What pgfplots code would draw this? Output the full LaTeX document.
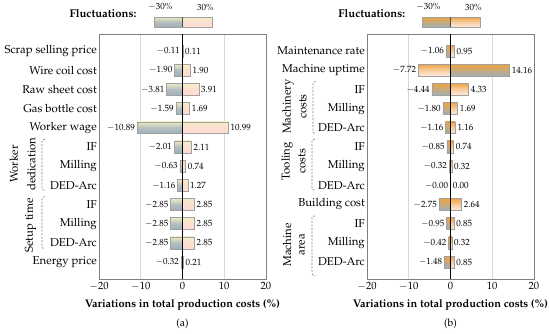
\documentclass[border=0pt]{standalone}
\usepackage[T1]{fontenc}
\usepackage{mathpazo}
\usepackage{pgfplots}
\pgfplotsset{compat=1.18}
\definecolor{barborder}{HTML}{A0A0A0}
\definecolor{aNtop}{HTML}{EFEBC4}
\definecolor{aNbot}{HTML}{9FB0BD}
\definecolor{aPtop}{HTML}{F6EEC6}
\definecolor{aPbot}{HTML}{FCDCD3}
\definecolor{bNtop}{HTML}{EEA43C}
\definecolor{bNbot}{HTML}{9FAFB9}
\definecolor{bPtop}{HTML}{EFA445}
\definecolor{bPbot}{HTML}{FDE9DC}
\definecolor{framec}{HTML}{7F7F7F}
\definecolor{gridc}{HTML}{D9D9D9}
\tikzset{valfont/.style={font=\fontsize{9}{10}\selectfont}}
\pgfplotsset{
  barbase/.style={xbar, bar width=0.62, draw=barborder, line width=0.5pt,
     nodes near coords, point meta=explicit symbolic},
  aneg/.style={barbase, top color=aNtop, bottom color=aNbot, middle color=aNbot!75!aNtop},
  apos/.style={barbase, top color=aPtop, bottom color=aPbot, middle color=aPbot!85!aPtop},
  bneg/.style={barbase, top color=bNtop, bottom color=bNbot, middle color=bNbot!50!bNtop},
  bpos/.style={barbase, top color=bPtop, bottom color=bPbot, middle color=bPbot!60!bPtop},
  lab east/.style={every node near coord/.append style={anchor=east, font=\fontsize{9}{10}\selectfont, inner sep=2pt, text=black}},
  lab west/.style={every node near coord/.append style={anchor=west, font=\fontsize{9}{10}\selectfont, inner sep=2pt, text=black}},
  tornado/.style={
    scale only axis, width=167pt, height=245pt,
    xmin=-20, xmax=20, ymin=-0.885, ymax=11.885, y dir=reverse,
    xtick={-20,-10,0,10,20}, ytick={0,...,11},
    major tick length=0pt,
    xmajorgrids, major grid style={draw=gridc, line width=0.6pt},
    axis line style={draw=framec, line width=0.9pt},
    bar shift=0pt,
    clip=false,
    xticklabel style={font=\fontsize{10.5}{12}\selectfont},
    yticklabel style={font=\fontsize{11.4}{13}\selectfont, anchor=east, inner sep=2pt},
    xlabel={Variations in total production costs (\%)},
    xlabel style={font=\fontsize{11}{13}\selectfont\bfseries, yshift=-2pt},
  },
}
% one bar per plot so that each bar gets its own shading
\newcommand{\nbar}[4]{\addplot[#1, lab east] coordinates {(#2,#3) [#4]};}
\newcommand{\pbar}[4]{\addplot[#1, lab west] coordinates {(#2,#3) [#4]};}
\newcommand{\bracketat}[3]{% xshift, top row, bottom row
  \draw[framec, dashed, dash pattern=on 2pt off 1.5pt, line width=0.6pt, rounded corners=2pt]
    ([xshift=#1+3pt]axis cs:-20,#2) -- ([xshift=#1]axis cs:-20,#2) -- ([xshift=#1]axis cs:-20,#3) -- ([xshift=#1+3pt]axis cs:-20,#3);}
\begin{document}
\begin{tikzpicture}
\tikzset{grp/.style={rotate=90, font=\fontsize{11.4}{13}\selectfont, inner sep=0pt}}
% ---------------- (a)
\begin{axis}[tornado, at={(0pt,0pt)}, anchor=south west,
  yticklabels={Scrap selling price, Wire coil cost, Raw sheet cost, Gas bottle cost, Worker wage, IF, Milling, DED-Arc, IF, Milling, DED-Arc, Energy price}]
% -30 %
\nbar{aneg}{-0.11}{0}{$-$0.11}
\nbar{aneg}{-1.90}{1}{$-$1.90}
\nbar{aneg}{-3.81}{2}{$-$3.81}
\nbar{aneg}{-1.59}{3}{$-$1.59}
\nbar{aneg}{-10.89}{4}{$-$10.89}
\nbar{aneg}{-2.01}{5}{$-$2.01}
\nbar{aneg}{-0.63}{6}{$-$0.63}
\nbar{aneg}{-1.16}{7}{$-$1.16}
\nbar{aneg}{-2.85}{8}{$-$2.85}
\nbar{aneg}{-2.85}{9}{$-$2.85}
\nbar{aneg}{-2.85}{10}{$-$2.85}
\nbar{aneg}{-0.32}{11}{$-$0.32}
% +30 %
\pbar{apos}{0.11}{0}{0.11}
\pbar{apos}{1.90}{1}{1.90}
\pbar{apos}{3.91}{2}{3.91}
\pbar{apos}{1.69}{3}{1.69}
\pbar{apos}{10.99}{4}{10.99}
\pbar{apos}{2.11}{5}{2.11}
\pbar{apos}{0.74}{6}{0.74}
\pbar{apos}{1.27}{7}{1.27}
\pbar{apos}{2.85}{8}{2.85}
\pbar{apos}{2.85}{9}{2.85}
\pbar{apos}{2.85}{10}{2.85}
\pbar{apos}{0.21}{11}{0.21}
\draw[black, line width=0.6pt] (axis cs:0,-0.885) -- (axis cs:0,11.885);
% legend
\path[draw=barborder, top color=aNtop, bottom color=aNbot, middle color=aNbot!75!aNtop] (axis cs:-6.7,-1.77) rectangle (axis cs:0,-1.25);
\path[draw=barborder, top color=aPtop, bottom color=aPbot, middle color=aPbot!85!aPtop] (axis cs:0,-1.77) rectangle (axis cs:7.0,-1.25);
\draw[black!70, line width=0.5pt] (axis cs:0,-1.77) -- (axis cs:0,-1.25);
\node[valfont] at (axis cs:-5.3,-2.28) {$-$30\%};
\node[valfont] at (axis cs:5.5,-2.28) {30\%};
\node[anchor=east, font=\fontsize{11.3}{13}\selectfont\bfseries, inner sep=0pt] at (axis cs:-11,-1.93) {Fluctuations:};
% groups
\node[grp] at ([xshift=-85pt]axis cs:-20,5.9) {Worker};
\node[grp] at ([xshift=-67.5pt]axis cs:-20,5.9) {dedication};
\bracketat{-57pt}{4.6}{7.25}
\node[grp] at ([xshift=-68.5pt]axis cs:-20,9.1) {Setup time};
\bracketat{-57pt}{7.6}{10.3}
\node[font=\fontsize{10.5}{12}\selectfont] at ([yshift=-45pt]axis cs:0,11.885) {(a)};
\end{axis}
% ---------------- (b)
\begin{axis}[tornado, at={(268pt,0pt)}, anchor=south west,
  yticklabels={Maintenance rate, Machine uptime, IF, Milling, DED-Arc, IF, Milling, DED-Arc, Building cost, IF, Milling, DED-Arc}]
% -30 %
\nbar{bneg}{-1.06}{0}{$-$1.06}
\pbar{bneg}{14.16}{1}{14.16}
\nbar{bneg}{-4.44}{2}{$-$4.44}
\nbar{bneg}{-1.80}{3}{$-$1.80}
\nbar{bneg}{-1.16}{4}{$-$1.16}
\nbar{bneg}{-0.85}{5}{$-$0.85}
\nbar{bneg}{-0.32}{6}{$-$0.32}
\nbar{bneg}{-0.001}{7}{$-$0.00}
\nbar{bneg}{-2.75}{8}{$-$2.75}
\nbar{bneg}{-0.95}{9}{$-$0.95}
\nbar{bneg}{-0.42}{10}{$-$0.42}
\nbar{bneg}{-1.48}{11}{$-$1.48}
% +30 %
\pbar{bpos}{0.95}{0}{0.95}
\nbar{bpos}{-7.72}{1}{$-$7.72}
\pbar{bpos}{4.33}{2}{4.33}
\pbar{bpos}{1.69}{3}{1.69}
\pbar{bpos}{1.16}{4}{1.16}
\pbar{bpos}{0.74}{5}{0.74}
\pbar{bpos}{0.32}{6}{0.32}
\pbar{bpos}{0.001}{7}{0.00}
\pbar{bpos}{2.64}{8}{2.64}
\pbar{bpos}{0.85}{9}{0.85}
\pbar{bpos}{0.32}{10}{0.32}
\pbar{bpos}{0.85}{11}{0.85}
\draw[black, line width=0.6pt] (axis cs:0,-0.885) -- (axis cs:0,11.885);
% legend
\path[draw=barborder, top color=bNtop, bottom color=bNbot, middle color=bNbot!50!bNtop] (axis cs:-6.7,-1.77) rectangle (axis cs:0,-1.25);
\path[draw=barborder, top color=bPtop, bottom color=bPbot, middle color=bPbot!60!bPtop] (axis cs:0,-1.77) rectangle (axis cs:7.2,-1.25);
\draw[black!70, line width=0.5pt] (axis cs:0,-1.77) -- (axis cs:0,-1.25);
\node[valfont] at (axis cs:-5.3,-2.28) {$-$30\%};
\node[valfont] at (axis cs:5.5,-2.28) {30\%};
\node[anchor=east, font=\fontsize{11.3}{13}\selectfont\bfseries, inner sep=0pt] at (axis cs:-10.8,-1.93) {Fluctuations:};
% groups
\node[grp] at ([xshift=-79pt]axis cs:-20,2.9) {Machinery};
\node[grp] at ([xshift=-64pt]axis cs:-20,2.9) {costs};
\bracketat{-54pt}{1.6}{4.3}
\node[grp] at ([xshift=-80pt]axis cs:-20,5.75) {Tooling};
\node[grp] at ([xshift=-65pt]axis cs:-20,5.75) {costs};
\bracketat{-55pt}{4.6}{7.25}
\node[grp] at ([xshift=-80pt]axis cs:-20,10.1) {Machine};
\node[grp] at ([xshift=-65pt]axis cs:-20,10.1) {area};
\bracketat{-55pt}{8.6}{11.7}
\node[font=\fontsize{10.5}{12}\selectfont] at ([yshift=-45pt]axis cs:0,11.885) {(b)};
\end{axis}
\pgfresetboundingbox
\path[use as bounding box] (-99pt,-54pt) rectangle (451pt,279pt);
\end{tikzpicture}
\end{document}
